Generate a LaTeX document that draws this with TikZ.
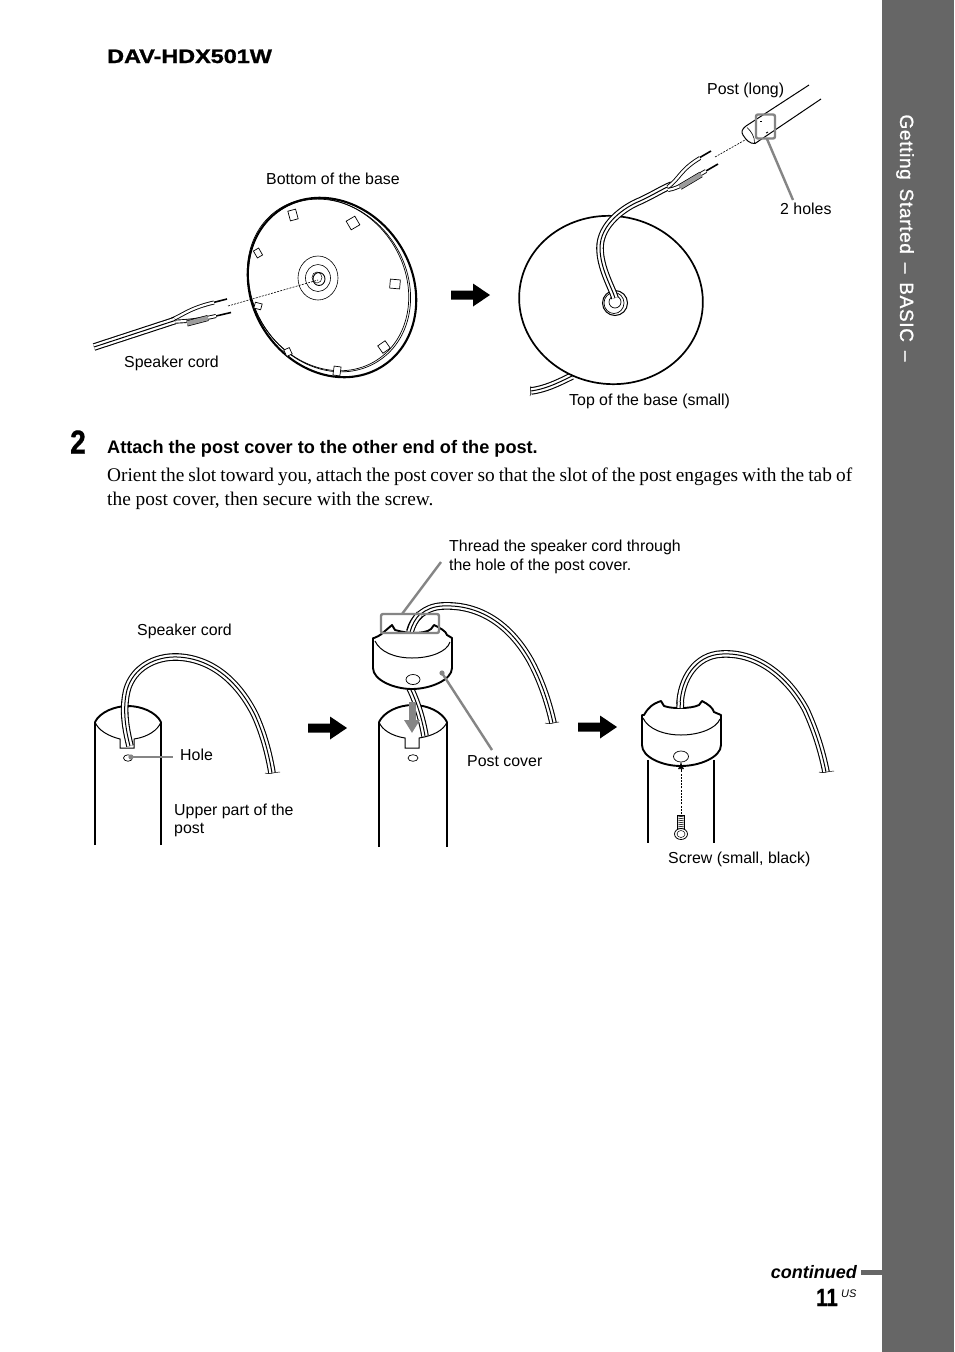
\documentclass[tikz,border=0pt]{standalone}
\usepackage{fontspec}
\setmainfont{Liberation Sans}
\newfontfamily\serifbody{Liberation Serif}
\newfontfamily\heavyfont[UprightFont={* Bold},FakeBold=1.2]{Liberation Sans}
\newfontfamily\pagefont[UprightFont={* Bold},FakeBold=.5]{Liberation Sans}
\newfontfamily\sidefont[LetterSpace=3.5,WordSpace=1.5,FakeBold=1.2]{Liberation Sans}
\usetikzlibrary{arrows.meta}
\definecolor{bandgray}{HTML}{666666}
\definecolor{leadgray}{HTML}{858585}
\definecolor{sleevegray}{HTML}{9C9C9C}
\tikzset{
  lbl/.style={anchor=base west,inner sep=0pt,font=\fontsize{15.9}{18}\selectfont,text=black},
  outline/.style={draw=black,line width=1.9pt,line join=round},
  thinline/.style={draw=black,line width=.7pt},
  cord/.style={draw=black,line width=7.6pt,line cap=butt,postaction={draw=white,line width=5.4pt},postaction={draw=black,line width=1pt}},
  wire/.style={draw=black,line width=4pt,line cap=butt,postaction={draw=white,line width=2.2pt}},
  tip/.style={draw=black,line width=1.6pt},
  sleeve/.style={draw=black,line width=6pt,postaction={draw=sleevegray,line width=4.6pt}},
  leader/.style={draw=leadgray,line width=2.4pt},
  leadbox/.style={draw=leadgray,line width=2.4pt,rounded corners=2pt},
  blockarrow/.style={fill=black,draw=none},
}
% x, y, rotation, half width, half height
\newcommand\basetab[5]{\draw[thinline,fill=white,shift={(#1,#2)},rotate=#3] (-#4,-#5) rectangle (#4,#5);}
\newcommand\bigarrow[2]{\fill[blockarrow,shift={(#1,#2)}] (0,-4.5) -- (22,-4.5) -- (22,-11.5) -- (39,0) -- (22,11.5) -- (22,4.5) -- (0,4.5) -- cycle;}
\begin{document}
\begin{tikzpicture}[x=1pt,y=-1pt]
\useasboundingbox (0,0) rectangle (954,1352);
\fill[white] (0,0) rectangle (954,1352);
% side band
\fill[bandgray] (882,0) rectangle (954,1352);
\node[anchor=center,rotate=-90,inner sep=0pt,text=white,font=\fontsize{19}{20}\selectfont\sidefont] (side) at (905,238) {Getting Started – BASIC –};
\fill[bandgray] (861,1270) rectangle (882,1275);
\node[anchor=base east,inner sep=0pt,font=\fontsize{18}{20}\selectfont\bfseries\itshape] (cont) at (857,1278) {continued};
\node[anchor=base east,inner sep=0pt,font=\fontsize{25}{26}\selectfont\pagefont] (pageno) at (838,1306) {\scalebox{.82}[1]{11}};
\node[anchor=base west,inner sep=0pt,font=\fontsize{11}{12}\selectfont\itshape] (pageus) at (841,1297) {US};
% headings and text
\node[anchor=base west,inner sep=0pt,font=\fontsize{19.5}{22}\selectfont\heavyfont] (model) at (107,63) {\scalebox{1.2}[1]{DAV-HDX501W}};
\node[anchor=base,inner sep=0pt,font=\fontsize{33}{34}\selectfont\heavyfont] (stepno) at (78,453.5) {\scalebox{.85}[1]{2}};
\node[anchor=base west,inner sep=0pt,font=\fontsize{18.15}{20}\selectfont\bfseries] (attach) at (107,453) {Attach the post cover to the other end of the post.};
\node[anchor=base west,inner sep=0pt,font=\fontsize{19.35}{22}\selectfont\serifbody] (body1) at (107,481) {\spaceskip=.21em\relax Orient the slot toward you, attach the post cover so that the slot of the post engages with the tab of};
\node[anchor=base west,inner sep=0pt,font=\fontsize{19.35}{22}\selectfont\serifbody] (body2) at (107,505) {the post cover, then secure with the screw.};
% labels
\node[lbl] (lpostlong) at (707,94) {Post (long)};
\node[lbl] (lholes) at (780,214) {2 holes};
\node[lbl] (lbottom) at (266,184) {Bottom of the base};
\node[lbl] (lcord1) at (124,367) {Speaker cord};
\node[lbl] (ltop) at (569,405) {Top of the base (small)};
\node[lbl] (lthread1) at (449,551) {Thread the speaker cord through};
\node[lbl] (lthread2) at (449,570) {the hole of the post cover.};
\node[lbl] (lcord2) at (137,635) {Speaker cord};
\node[lbl] (lhole) at (180,760) {Hole};
\node[lbl] (lupper1) at (174,815) {Upper part of the};
\node[lbl] (lupper2) at (174,833) {post};
\node[lbl] (lcover) at (467,766) {Post cover};
\node[lbl] (lscrew) at (668,863) {Screw (small, black)};
% block arrows
\bigarrow{451}{295}
\bigarrow{308}{728}
\bigarrow{578}{727}

% ---- bottom of the base
\draw[draw=black,line width=2.1pt,fill=white] (332,287.5) ellipse [x radius=93.5,y radius=80,rotate=-57];
\draw[thinline] (329.5,285.5) ellipse [x radius=90,y radius=77,rotate=-57];
\draw[thinline] (328,284.5) ellipse [x radius=90,y radius=76.5,rotate=-57];
\basetab{293}{215}{15}{4}{5}
\basetab{353}{223}{30}{5}{5}
\basetab{258}{253}{30}{3}{4}
\basetab{395}{284}{-5}{5}{4.5}
\basetab{258}{306}{-15}{3.5}{3}
\basetab{288}{352}{25}{3}{3.5}
\basetab{337}{371}{-8}{3.5}{4.5}
\basetab{384}{347}{35}{4.5}{4.5}
\draw[thinline,line width=.6pt] (318,278) ellipse [x radius=20,y radius=22];
\draw[thinline,line width=.6pt] (318,278) ellipse [x radius=12.5,y radius=13.5];
\draw[thinline,line width=.9pt] (319,279) ellipse [x radius=6,y radius=6.5];
\draw[thinline,line width=.5pt] (317,277.5) ellipse [x radius=5,y radius=5.5];
\coordinate (dashA) at (228,306);
\coordinate (dashB) at (318,280);
\draw[thinline,line width=.6pt,dash pattern=on 2pt off 1.2pt] (dashA) -- (dashB);
% speaker cord, left
\draw[tip] (213,302.6) -- (227,299);
\draw[tip] (216,316) -- (231,312.5);
\draw[wire] (172,319.5) .. controls (183,315) and (190,308) .. (214,302.5);
\draw[wire] (172,322) .. controls (180,321) and (190,322) .. (216,316);
\draw[sleeve] (187,323.5) -- (208,318);
\draw[cord] (94,347) -- (175,320.5);

% ---- top of the base
\draw[cord] (572,376) .. controls (556,384) and (545,389) .. (531,391);
\draw[thinline,line width=.5pt] (531,386) .. controls (529,390) and (532,392) .. (530,396);
\draw[draw=black,line width=1.7pt,fill=white] (611,300) ellipse [x radius=92,y radius=84,rotate=-8];
\draw[thinline,line width=1pt] (615,303) ellipse [x radius=12.5,y radius=12.5];
\draw[thinline] (614,303) ellipse [x radius=10,y radius=10.5];
\draw[thinline,fill=white] (615,302) ellipse [x radius=6,y radius=6];
\draw[cord] (615,298) .. controls (612,288) and (600,268) .. (600,248) .. controls (600,224) and (625,207) .. (640,201) .. controls (655,194) and (662,189) .. (672,185);
\draw[tip] (699,158) -- (711,151);
\draw[tip] (706,171) -- (718,164);
\draw[wire] (668,187) .. controls (680,178) and (680,170) .. (700,158);
\draw[wire] (668,190) .. controls (680,188) and (690,180) .. (706,171);
\draw[sleeve] (680,187) -- (701,174.5);

% ---- post (long)
\coordinate (dashC) at (715,157);
\coordinate (dashD) at (745,140);
\draw[thinline,line width=.6pt,dash pattern=on 2pt off 1.2pt] (dashC) -- (dashD);
\draw[thinline,line width=1pt] (809,85) -- (746,126) .. controls (742,129) and (741,132) .. (743,135) .. controls (746,140) and (750,144) .. (755,143.5) -- (821,99);
\draw[thinline,line width=.6pt] (747,127.5) .. controls (751,131) and (755,137) .. (754.5,143);
\draw[thinline,line width=.9pt] (760,121) -- (762,121);
\draw[thinline,line width=.9pt] (766,133) -- (768,132);
\coordinate (holesbox) at (767,139);
\coordinate (holesend) at (793,200);
\draw[leadbox] (756,114.5) rectangle (775,138.5);
\draw[leader] (holesbox) -- (holesend);

% ---- first post
\draw[outline,line width=1.5pt] (95,845) -- (95,722);
\draw[outline,line width=1.5pt] (161,845) -- (161,722);
\draw[outline] (95,722) .. controls (100,712) and (115,706) .. (128,706) .. controls (141,706) and (156,712) .. (161,722);
\draw[thinline,line width=1pt] (95,722) .. controls (98,730) and (108,736) .. (120,739) -- (120,748) -- (134,748) -- (134,739) .. controls (148,737) and (158,730) .. (161,722);
\draw[thinline,line width=.7pt] (128,758) ellipse [x radius=4.5,y radius=3.2];
\draw[cord] (130,746) .. controls (126,730) and (122,710) .. (127,690) .. controls (133,668) and (155,656) .. (178,657) .. controls (215,659) and (240,685) .. (255,715) .. controls (264,735) and (269,755) .. (272,773);
\draw[thinline,line width=.5pt] (265,773) .. controls (268,775) and (275,772) .. (280,772);
\coordinate (holept) at (131,757);
\coordinate (holeend) at (173,757);
\fill[leadgray] (holept) circle (2.6);
\draw[leader] (holept) -- (holeend);

% ---- second post
\draw[outline,line width=1.5pt] (379,847) -- (379,722);
\draw[outline,line width=1.5pt] (447,847) -- (447,722);
\draw[outline] (379,722) .. controls (384,712) and (398,705) .. (413,705) .. controls (428,705) and (442,712) .. (447,722);
\draw[cord] (410,688) .. controls (416,700) and (422,718) .. (425,736);
\draw[thinline,line width=1pt] (379,722) .. controls (382,730) and (392,736) .. (405,738) -- (405,748) -- (419,748) -- (419,738) .. controls (433,736) and (444,730) .. (447,722);
\draw[thinline,line width=.7pt] (413,758) ellipse [x radius=5,y radius=3.3];
% cover
\draw[cord] (410,631) .. controls (413,618) and (425,607) .. (442,606) .. controls (480,604) and (510,625) .. (530,660) .. controls (542,682) and (549,705) .. (553,723);
\draw[thinline,line width=.5pt] (545,723) .. controls (548,725) and (556,722) .. (559,722);
\draw[outline,fill=white] (373,638) -- (374,638) .. controls (380,636) and (384,632) .. (385,631) -- (392,625) -- (395,630) .. controls (402,632) and (409,633) .. (413,633) .. controls (420,633) and (428,632) .. (431,629) -- (434,625) .. controls (440,628) and (446,631) .. (447,635) -- (452,638) -- (452,668) .. controls (452,680) and (430,689) .. (412,689) .. controls (394,689) and (373,680) .. (373,668) -- cycle;
\draw[cord] (410,632) .. controls (412,625) and (415,619) .. (420,614);
\draw[thinline,line width=1pt] (375,641) .. controls (380,652) and (395,658) .. (412,658) .. controls (430,658) and (447,652) .. (450,642);
\draw[thinline,line width=.7pt] (413,679.5) ellipse [x radius=7,y radius=5];
\coordinate (coverpt) at (442,673);
\coordinate (coverend) at (492,750);
\fill[leadgray] (coverpt) circle (2.6);
\draw[leader] (coverpt) -- (coverend);
\coordinate (threadbox) at (402,614);
\coordinate (threadend) at (441,562);
\draw[leadbox] (381,614) rectangle (439,633);
\draw[leader] (threadbox) -- (threadend);
% grey push arrow
\coordinate (pushA) at (412,702);
\coordinate (pushB) at (412,733);
\draw[-{Triangle[length=13pt,width=15pt]},draw=leadgray,fill=leadgray,line width=7pt] (pushA) -- (pushB);

% ---- third post
\draw[outline,line width=1.3pt] (648,760) -- (648,843);
\draw[outline,line width=1.3pt] (714,760) -- (714,843);
\draw[cord] (680,704) .. controls (681,680) and (695,655) .. (722,654) .. controls (760,652) and (790,680) .. (806,710) .. controls (816,732) and (822,752) .. (826,772);
\draw[thinline,line width=.5pt] (819,772) .. controls (822,774) and (829,771) .. (834,771);
\draw[outline,fill=white] (642,715) -- (644,715) .. controls (648,708) and (652,704) .. (661,701) -- (664,706) .. controls (670,708) and (675,708) .. (681,708) .. controls (688,708) and (695,707) .. (699,705) -- (702,701) .. controls (708,704) and (713,708) .. (714,712) -- (721,715) -- (721,745) .. controls (721,757) and (700,766) .. (681,766) .. controls (662,766) and (642,757) .. (642,745) -- cycle;
\draw[cord] (680,708) -- (680.5,702);
\draw[thinline,line width=1pt] (643,718) .. controls (648,729) and (664,735) .. (681,735) .. controls (698,735) and (716,729) .. (720,719);
\draw[thinline,line width=.7pt] (681,756.5) ellipse [x radius=7.5,y radius=5.5];
\coordinate (screwtop) at (681,814);
\coordinate (screwhole) at (681,762);
\draw[thinline,line width=.6pt,dash pattern=on 2pt off 1.2pt,-{Latex[length=7pt,width=6pt]}] (screwtop) -- (screwhole);
\draw[thinline,line width=.6pt,fill=white] (677.5,815) -- (684.5,815) -- (684.5,830) -- (677.5,830) -- cycle;
\foreach \yy in {817,819,...,829} {\draw[thinline,line width=.6pt] (677.5,\yy) -- (684.5,\yy-1);}
\draw[thinline,line width=.8pt,fill=white] (681,834) ellipse [x radius=6.5,y radius=5.5];
\draw[thinline,line width=.5pt] (681,834) ellipse [x radius=4,y radius=3.5];
\end{tikzpicture}
\end{document}
